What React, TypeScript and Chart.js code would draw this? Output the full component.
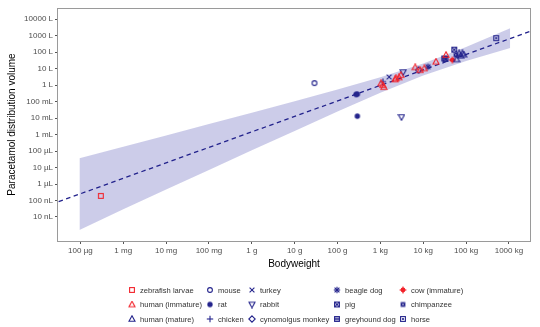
import React, { useEffect, useRef } from "react";
import { Chart, registerables } from "chart.js";

Chart.register(...registerables);

// ---------- data (bodyweight in kg, volume in L) ----------
const speciesNames = [
  "zebrafish larvae", "human (immature)", "human (mature)",
  "mouse", "rat", "chicken",
  "turkey", "rabbit", "cynomolgus monkey",
  "beagle dog", "pig", "greyhound dog",
  "cow (immature)", "chimpanzee", "horse",
];
const speciesColors = [
  "red", "red", "navy",
  "navy", "navy", "navy",
  "navy", "navy", "navy",
  "navy", "navy", "navy",
  "red", "navy", "navy",
];
const speciesShapes = [
  "square", "triangle", "triangle",
  "circle", "dot", "plus",
  "x", "triangleDown", "diamond",
  "asterisk", "squareX", "squareLines",
  "circlePlus", "squareFilled", "squareCircle",
];
const bodyweightKg: number[][] = [
  [3e-7],
  [1.04, 1.13, 1.2, 2.2, 2.3, 2.7, 3.0, 6.5, 8.5, 10.6, 19.8, 34],
  [60, 69, 75, 82, 88],
  [0.029],
  [0.27, 0.29, 0.29],
  [1.15],
  [1.6],
  [3.1, 3.4],
  [7.8],
  [13],
  [33, 53],
  [31],
  [48],
  [58],
  [504],
];
const volumeL: number[][] = [
  [1.9e-7],
  [1.27, 1.0, 0.75, 2.2, 2.5, 2.9, 4.0, 11.8, 8, 10.2, 25.9, 66],
  [36, 83, 60, 83, 70],
  [1.32],
  [0.27, 0.28, 0.013],
  [1.6],
  [3.1],
  [0.0115, 6.1],
  [8.1],
  [12.9],
  [38, 140],
  [41],
  [33],
  [66],
  [700],
];

// regression line and its band
const fitX = [3.1e-8, 3.1e3];
const fitY = [8.5e-8, 1.8e3];
const bandX = [9.5e-8, 1e-6, 1e-5, 1e-4, 1e-3, 1e-2, 1e-1, 1, 10, 100, 1070];
const bandUpper = [3.7e-5, 1.8e-4, 8.7e-4, 4.3e-3, 0.021, 0.105, 0.54, 2.95, 20, 200, 2800];
const bandLower = [1.6e-9, 2.9e-8, 4.6e-7, 7.1e-6, 1.1e-4, 1.66e-3, 0.0245, 0.34, 3.8, 29, 174];

// axes
const xTickValues = [1e-7, 1e-6, 1e-5, 1e-4, 1e-3, 1e-2, 1e-1, 1, 10, 100, 1000];
const xTickLabels = ["100 µg", "1 mg", "10 mg", "100 mg", "1 g", "10 g", "100 g", "1 kg", "10 kg", "100 kg", "1000 kg"];
const yTickValues = [1e-8, 1e-7, 1e-6, 1e-5, 1e-4, 1e-3, 1e-2, 1e-1, 1, 10, 100, 1000, 10000];
const yTickLabels = ["10 nL", "100 nL", "1 µL", "10 µL", "100 µL", "1 mL", "10 mL", "100 mL", "1 L", "10 L", "100 L", "1000 L", "10000 L"];
const xRange = [3.1e-8, 3.1e3];
const yRange = [3.5e-10, 4.7e4];

const xTitle = "Bodyweight";
const yTitle = "Paracetamol distribution volume";

// ---------- styles ----------
const COLORS: Record<string, string> = { red: "#f2232b", navy: "#24248c" };
const FONT = 'Arial, "Liberation Sans", sans-serif';

function makeIcon(kind: string, color: string): HTMLCanvasElement {
  const s = 8;
  const c = document.createElement("canvas");
  c.width = s;
  c.height = s;
  const g = c.getContext("2d")!;
  const m = s / 2;
  const r = 2.4;
  g.strokeStyle = color;
  g.fillStyle = color;
  g.lineWidth = 1.1;
  const line = (x1: number, y1: number, x2: number, y2: number) => {
    g.beginPath(); g.moveTo(x1, y1); g.lineTo(x2, y2); g.stroke();
  };
  switch (kind) {
    case "square":
      g.strokeRect(m - r, m - r, 2 * r, 2 * r);
      break;
    case "circle":
      g.beginPath(); g.arc(m, m, r, 0, Math.PI * 2); g.stroke();
      break;
    case "dot":
      g.beginPath(); g.arc(m, m, r + 0.3, 0, Math.PI * 2); g.fill();
      break;
    case "x":
      line(m - r, m - r, m + r, m + r); line(m - r, m + r, m + r, m - r);
      break;
    case "plus":
      line(m - r - 0.8, m, m + r + 0.8, m); line(m, m - r - 0.8, m, m + r + 0.8);
      break;
    case "asterisk":
      line(m - r, m - r, m + r, m + r); line(m - r, m + r, m + r, m - r);
      line(m - r - 0.8, m, m + r + 0.8, m); line(m, m - r - 0.8, m, m + r + 0.8);
      g.beginPath(); g.arc(m, m, 1.3, 0, Math.PI * 2); g.fill();
      break;
    case "triangle":
      g.beginPath(); g.moveTo(m, m - r - 0.8); g.lineTo(m + r + 0.6, m + r - 0.2); g.lineTo(m - r - 0.6, m + r - 0.2); g.closePath(); g.stroke();
      break;
    case "triangleDown":
      g.beginPath(); g.moveTo(m, m + r + 0.8); g.lineTo(m + r + 0.6, m - r + 0.2); g.lineTo(m - r - 0.6, m - r + 0.2); g.closePath(); g.stroke();
      break;
    case "diamond":
      g.beginPath(); g.moveTo(m, m - r - 0.8); g.lineTo(m + r + 0.8, m); g.lineTo(m, m + r + 0.8); g.lineTo(m - r - 0.8, m); g.closePath(); g.stroke();
      break;
    case "circlePlus":
      g.beginPath(); g.arc(m, m, r, 0, Math.PI * 2); g.fill();
      line(m - r - 1, m, m + r + 1, m); line(m, m - r - 1, m, m + r + 1);
      break;
    case "squareX":
      g.strokeRect(m - r, m - r, 2 * r, 2 * r);
      line(m - r, m - r, m + r, m + r); line(m - r, m + r, m + r, m - r);
      break;
    case "squareLines":
      g.strokeRect(m - r, m - r, 2 * r, 2 * r);
      line(m - r, m - 0.8, m + r, m - 0.8); line(m - r, m + 0.8, m + r, m + 0.8);
      break;
    case "squareFilled":
      g.fillRect(m - r, m - r, 2 * r, 2 * r);
      g.strokeStyle = "rgba(255,255,255,0.6)"; g.lineWidth = 0.7;
      line(m - r + 1, m - r + 1, m + r - 1, m + r - 1); line(m - r + 1, m + r - 1, m + r - 1, m - r + 1);
      break;
    case "squareCircle":
      g.strokeRect(m - r, m - r, 2 * r, 2 * r);
      g.beginPath(); g.arc(m, m, 1.1, 0, Math.PI * 2); g.fill();
      break;
  }
  return c;
}

export default function App() {
  const ref = useRef<HTMLCanvasElement | null>(null);

  useEffect(() => {
    if (!ref.current) return;
    const icons = speciesNames.map((_, i) => makeIcon(speciesShapes[i], COLORS[speciesColors[i]]));

    const speciesSets = speciesNames.map((name, i) => ({
      label: name,
      data: bodyweightKg[i].map((x, j) => ({ x, y: volumeL[i][j] })),
      pointStyle: icons[i],
      pointRadius: 3,
      showLine: false,
      order: 1,
    }));

    const legendPlugin = {
      id: "customDecor",
      afterDraw(chart: any) {
        const ctx: CanvasRenderingContext2D = chart.ctx;
        const a = chart.chartArea;
        ctx.save();
        // panel border
        ctx.strokeStyle = "#9a9a9a";
        ctx.lineWidth = 1;
        ctx.strokeRect(Math.round(a.left) - 0.5, Math.round(a.top) + 0.5, Math.round(a.right - a.left) + 1, Math.round(a.bottom - a.top));
        // axis titles
        ctx.fillStyle = "#000";
        ctx.font = `10px ${FONT}`;
        ctx.textAlign = "center";
        ctx.textBaseline = "middle";
        ctx.fillText(xTitle, (a.left + a.right) / 2, 264);
        ctx.save();
        ctx.translate(12, (a.top + a.bottom) / 2);
        ctx.rotate(-Math.PI / 2);
        ctx.fillText(yTitle, 0, 0);
        ctx.restore();
        // legend (column-major, 3 rows)
        const colX = [132, 210, 252, 337, 403];
        const rowY = [290, 304.5, 319];
        ctx.font = `7.6px ${FONT}`;
        ctx.textAlign = "left";
        ctx.fillStyle = "#333";
        speciesNames.forEach((name, i) => {
          const col = Math.floor(i / 3);
          const row = i % 3;
          const x = colX[col];
          const y = rowY[row];
          ctx.drawImage(icons[i], x - 4, y - 4);
          ctx.fillText(name, x + 8, y + 0.5);
        });
        ctx.restore();
      },
    };

    const chart = new Chart(ref.current, {
      type: "scatter",
      data: {
        datasets: [
          {
            label: "upper",
            data: bandX.map((x, i) => ({ x, y: bandUpper[i] })),
            showLine: true,
            pointRadius: 0,
            borderWidth: 0,
            borderColor: "rgba(0,0,0,0)",
            backgroundColor: "rgba(40,40,165,0.24)",
            fill: "+1",
            order: 10,
          } as any,
          {
            label: "lower",
            data: bandX.map((x, i) => ({ x, y: bandLower[i] })),
            showLine: true,
            pointRadius: 0,
            borderWidth: 0,
            borderColor: "rgba(0,0,0,0)",
            fill: false,
            order: 10,
          },
          {
            label: "fit",
            data: fitX.map((x, i) => ({ x, y: fitY[i] })),
            showLine: true,
            pointRadius: 0,
            borderWidth: 1.3,
            borderColor: "#22228c",
            borderDash: [4.5, 3.5],
            fill: false,
            order: 5,
          },
          ...speciesSets,
        ],
      },
      options: {
        animation: false,
        responsive: false,
        maintainAspectRatio: false,
        events: [],
        layout: { padding: { top: 8, right: 10, left: 0, bottom: 0 } },
        plugins: {
          legend: { display: false },
          tooltip: { enabled: false },
        },
        scales: {
          x: {
            type: "logarithmic",
            min: xRange[0],
            max: xRange[1],
            afterBuildTicks: (s: any) => { s.ticks = xTickValues.map((v) => ({ value: v })); },
            afterFit: (s: any) => { s.height = 86; },
            ticks: {
              autoSkip: false,
              maxRotation: 0,
              padding: 2,
              color: "#4d4d4d",
              font: { size: 8, family: FONT },
              callback: (_v: any, i: number) => xTickLabels[i],
            },
            grid: { drawOnChartArea: false, drawTicks: true, tickLength: 3, color: "#555" },
            border: { display: false },
          },
          y: {
            type: "logarithmic",
            min: yRange[0],
            max: yRange[1],
            afterBuildTicks: (s: any) => { s.ticks = yTickValues.map((v) => ({ value: v })); },
            afterFit: (s: any) => { s.width = 58; },
            ticks: {
              autoSkip: false,
              padding: 2,
              color: "#4d4d4d",
              font: { size: 8, family: FONT },
              callback: (_v: any, i: number) => yTickLabels[i],
            },
            grid: { drawOnChartArea: false, drawTicks: true, tickLength: 3, color: "#555" },
            border: { display: false },
          },
        },
      } as any,
      plugins: [legendPlugin],
    });
    return () => chart.destroy();
  }, []);

  return (
    <div style={{ position: "absolute", left: 0, top: 0, width: 540, height: 327, background: "#fff" }}>
      <canvas ref={ref} width={540} height={327} style={{ width: 540, height: 327, display: "block" }} />
    </div>
  );
}
